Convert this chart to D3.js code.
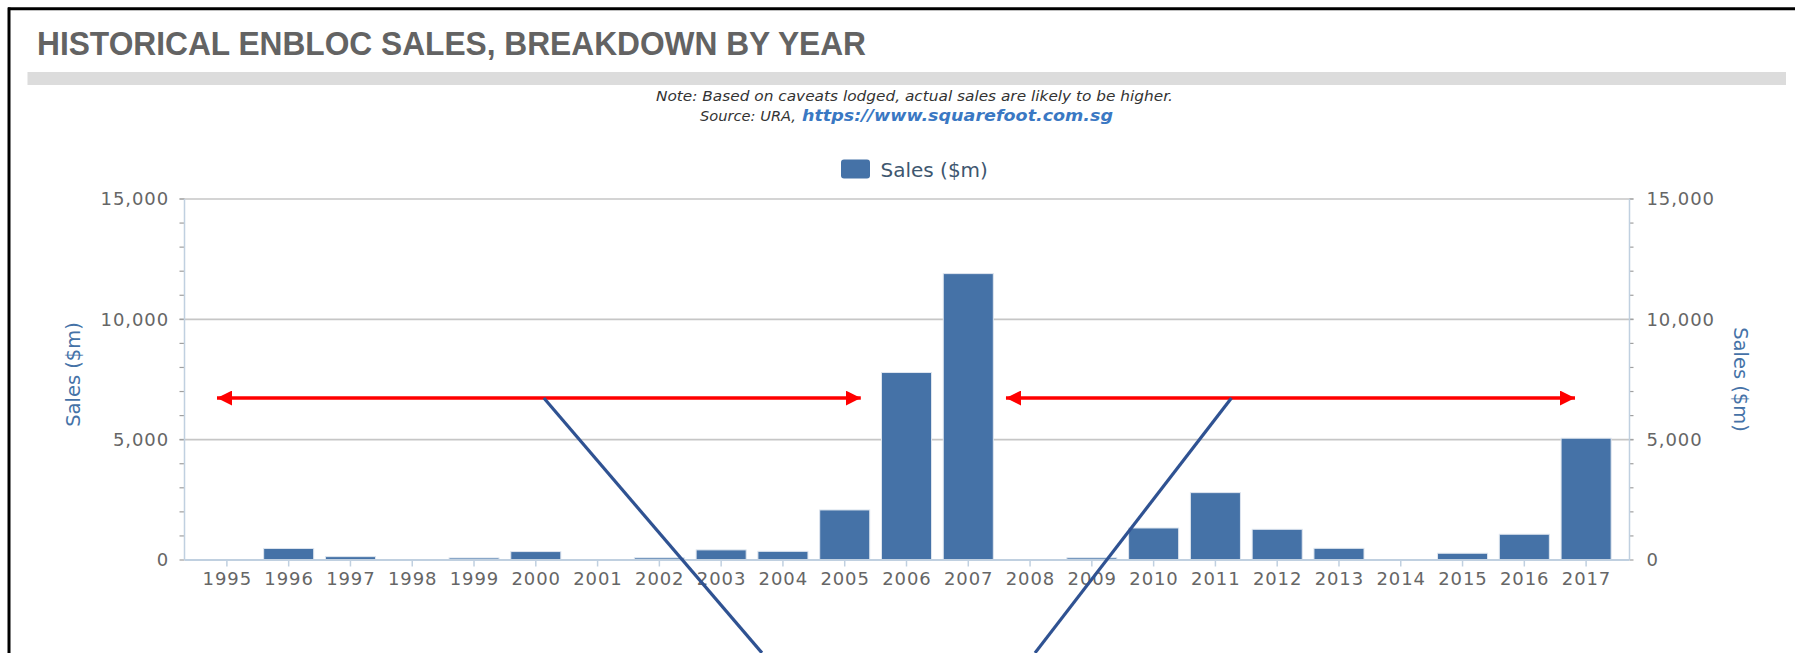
<!DOCTYPE html>
<html lang="en">
<head>
<meta charset="UTF-8">
<title>Historical Enbloc Sales</title>
<script src="https://d3js.org/d3.v7.min.js"></script>
<style>
    body { margin: 0; background: #fff; }
    svg { display: block; }
    .tick-label { font-family: "DejaVu Sans", sans-serif; font-size: 18px; fill: #666; letter-spacing: 0.9px; }
    .axis-title { font-family: "DejaVu Sans", sans-serif; font-size: 19.5px; fill: #4572a7; }
    .note { font-family: "DejaVu Sans", sans-serif; font-style: italic; fill: #333; }
</style>
</head>
<body>
<svg id="chart" width="1795" height="653"></svg>
<script>
    // data
    let years = ["1995","1996","1997","1998","1999","2000","2001","2002","2003","2004","2005","2006",
                 "2007","2008","2009","2010","2011","2012","2013","2014","2015","2016","2017"];
    let sales = [0, 480, 140, 0, 85, 350, 0, 90, 420, 360, 2080, 7790,
                 11900, 0, 90, 1330, 2800, 1275, 485, 0, 280, 1070, 5060];
    let yTicks = [0, 5000, 10000, 15000];
    let minorTicks = d3.range(0, 15001, 1000);

    // hand drawn overlays, in category index / value units
    let redArrows = [{from: -0.16, to: 10.26, value: 6730}, {from: 12.61, to: 21.82, value: 6730}];
    let blueLines = [{x1: 5.13, y1: 6730, x2: 8.66, y2: -3860}, {x1: 16.26, y1: 6730, x2: 13.08, y2: -3860}];

    let svg = d3.select("#chart");
    let plotL = 184.5, plotR = 1629.5, plotT = 199, plotB = 560;

    let x = d3.scaleBand().domain(years).range([196, 1617]).padding(0);
    let barW = x.bandwidth() * 0.81;
    let y = d3.scaleLinear().domain([0, 15000]).range([plotB, plotT]);
    let xi = d3.scaleLinear().domain([0, years.length - 1])
        .range([x(years[0]) + x.bandwidth() / 2, x(years[years.length - 1]) + x.bandwidth() / 2]);

    // frame
    svg.append("line").attr("x1", 8).attr("x2", 1795).attr("y1", 8.7).attr("y2", 8.7)
        .attr("stroke", "#000").attr("stroke-width", 3);
    svg.append("line").attr("x1", 9).attr("x2", 9).attr("y1", 7.5).attr("y2", 653)
        .attr("stroke", "#000").attr("stroke-width", 3);

    // header
    svg.append("text").attr("x", 37).attr("y", 55)
        .attr("textLength", 829).attr("lengthAdjust", "spacingAndGlyphs")
        .style("font-family", "'Liberation Sans', Arial, sans-serif").style("font-weight", "bold")
        .style("font-size", "33px").style("fill", "#636363")
        .text("HISTORICAL ENBLOC SALES, BREAKDOWN BY YEAR");
    svg.append("rect").attr("x", 27.5).attr("y", 72).attr("width", 1758.5).attr("height", 13).attr("fill", "#dcdcdc");

    svg.append("text").attr("class", "note").attr("x", 656).attr("y", 100.5)
        .attr("textLength", 517).attr("lengthAdjust", "spacingAndGlyphs")
        .style("font-size", "13.5px")
        .text("Note: Based on caveats lodged, actual sales are likely to be higher.");
    svg.append("text").attr("class", "note").attr("x", 700).attr("y", 121)
        .attr("textLength", 96).attr("lengthAdjust", "spacingAndGlyphs")
        .style("font-size", "13.5px").text("Source: URA,");
    svg.append("text").attr("class", "note").attr("x", 802).attr("y", 121)
        .attr("textLength", 311).attr("lengthAdjust", "spacingAndGlyphs")
        .style("font-size", "16.5px").style("font-weight", "bold").style("fill", "#3a78c3")
        .text("https://www.squarefoot.com.sg");

    // legend
    svg.append("rect").attr("x", 841).attr("y", 159.5).attr("width", 29).attr("height", 19).attr("rx", 3)
        .attr("fill", "#4572a7");
    svg.append("text").attr("x", 880.5).attr("y", 176.5)
        .style("font-family", "'DejaVu Sans', sans-serif").style("font-size", "20px").style("fill", "#3e576f")
        .text("Sales ($m)");

    // grid
    svg.append("g").selectAll("line").data(yTicks.filter(d => d > 0)).join("line")
        .attr("x1", plotL - 5).attr("x2", plotR + 4).attr("y1", d => y(d)).attr("y2", d => y(d))
        .attr("stroke", "#c6c6c6").attr("stroke-width", 1.6);

    // minor ticks both sides
    svg.append("g").selectAll("line").data(minorTicks).join("line")
        .attr("x1", plotL - 5).attr("x2", plotL).attr("y1", d => y(d)).attr("y2", d => y(d))
        .attr("stroke", "#a0a0a0").attr("stroke-width", 1.2);
    svg.append("g").selectAll("line").data(minorTicks).join("line")
        .attr("x1", plotR).attr("x2", plotR + 4).attr("y1", d => y(d)).attr("y2", d => y(d))
        .attr("stroke", "#a0a0a0").attr("stroke-width", 1.2);

    // axis lines
    svg.append("line").attr("x1", plotL).attr("x2", plotL).attr("y1", plotT).attr("y2", plotB)
        .attr("stroke", "#c0d0e0").attr("stroke-width", 1.5);
    svg.append("line").attr("x1", plotR).attr("x2", plotR).attr("y1", plotT).attr("y2", plotB)
        .attr("stroke", "#c0d0e0").attr("stroke-width", 1.5);

    // bars
    svg.append("g").selectAll("rect").data(years).join("rect")
        .attr("x", (d) => x(d) + (x.bandwidth() - barW) / 2)
        .attr("width", barW)
        .attr("y", (d, i) => y(sales[i]))
        .attr("height", (d, i) => plotB - y(sales[i]))
        .attr("fill", "#4572a7")
        .attr("stroke", (d, i) => sales[i] > 0 ? "#dfe6ef" : "none").attr("stroke-width", 1);

    // x axis
    svg.append("line").attr("x1", plotL).attr("x2", plotR).attr("y1", plotB).attr("y2", plotB)
        .attr("stroke", "#c0d0e0").attr("stroke-width", 2);
    svg.append("g").selectAll("line").data(years).join("line")
        .attr("x1", d => x(d) + x.bandwidth() / 2).attr("x2", d => x(d) + x.bandwidth() / 2)
        .attr("y1", plotB).attr("y2", plotB + 6.5)
        .attr("stroke", "#c0d0e0").attr("stroke-width", 1.5);
    svg.append("g").selectAll("text").data(years).join("text")
        .attr("class", "tick-label")
        .attr("x", d => x(d) + x.bandwidth() / 2 + 0.4).attr("y", 584.5)
        .attr("text-anchor", "middle").text(d => d);

    // y labels
    let fmt = d3.format(",");
    svg.append("g").selectAll("text").data(yTicks).join("text")
        .attr("class", "tick-label").attr("x", 169).attr("y", d => y(d)).attr("dy", "0.36em")
        .attr("text-anchor", "end").text(d => fmt(d));
    svg.append("g").selectAll("text").data(yTicks).join("text")
        .attr("class", "tick-label").attr("x", 1646.5).attr("y", d => y(d)).attr("dy", "0.36em")
        .attr("text-anchor", "start").text(d => fmt(d));

    svg.append("text").attr("class", "axis-title")
        .attr("transform", "translate(73," + ((plotT + plotB) / 2 - 5) + ") rotate(-90)")
        .attr("text-anchor", "middle").attr("dy", "0.36em").text("Sales ($m)");
    svg.append("text").attr("class", "axis-title")
        .attr("transform", "translate(1741," + (plotT + plotB) / 2 + ") rotate(90)")
        .attr("text-anchor", "middle").attr("dy", "0.36em").text("Sales ($m)");

    // red double arrows
    let defs = svg.append("defs");
    defs.append("marker").attr("id", "head").attr("viewBox", "0 0 10 10")
        .attr("refX", 10).attr("refY", 5).attr("markerUnits", "userSpaceOnUse")
        .attr("markerWidth", 15).attr("markerHeight", 15).attr("orient", "auto-start-reverse")
        .append("path").attr("d", "M0,0L10,5L0,10Z").attr("fill", "#ff0000");
    svg.append("g").selectAll("line").data(redArrows).join("line")
        .attr("x1", d => xi(d.from)).attr("x2", d => xi(d.to))
        .attr("y1", d => y(d.value)).attr("y2", d => y(d.value))
        .attr("stroke", "#ff0000").attr("stroke-width", 3.5)
        .attr("marker-start", "url(#head)").attr("marker-end", "url(#head)");

    // blue pointer lines
    svg.append("g").selectAll("line").data(blueLines).join("line")
        .attr("x1", d => xi(d.x1)).attr("y1", d => y(d.y1))
        .attr("x2", d => xi(d.x2)).attr("y2", d => y(d.y2))
        .attr("stroke", "#2f5292").attr("stroke-width", 3.2);
</script>
</body>
</html>
